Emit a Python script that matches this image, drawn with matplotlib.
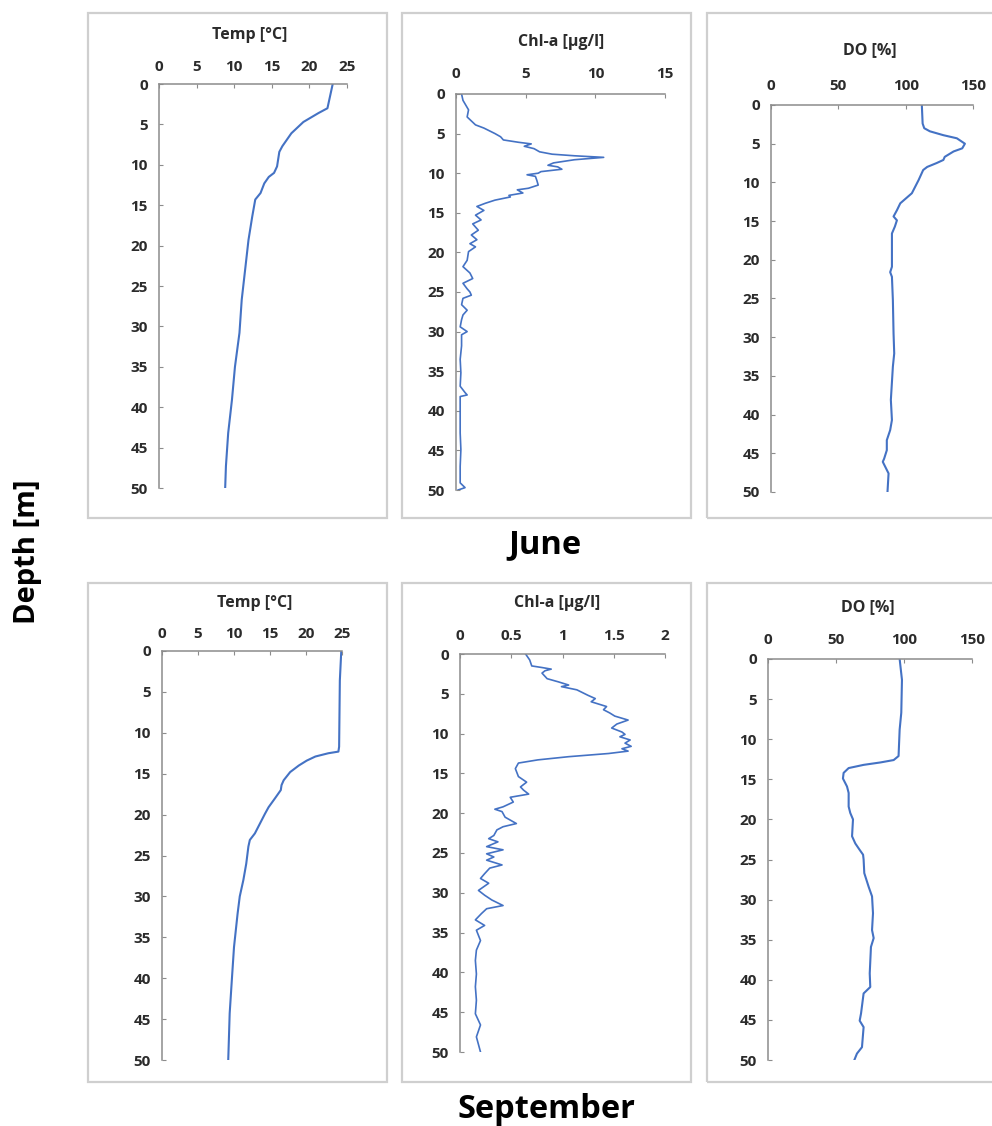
import matplotlib.pyplot as plt
from matplotlib.patches import Rectangle

# ---- June profiles ----
jun_temp_depth = [0, 3.0, 3.6, 4.7, 6.1, 7.7, 8.4, 10.2, 11.0, 11.5, 12.3, 13.5, 14.3, 16.4,
                  19.3, 22.6, 26.7, 30.8, 35.0, 39.1, 43.2, 47.3, 50]
jun_temp = [23.1, 22.4, 21.2, 19.2, 17.6, 16.4, 16.0, 15.7, 15.3, 14.6, 14.0, 13.5, 12.8, 12.4,
            11.9, 11.5, 11.0, 10.7, 10.1, 9.7, 9.2, 8.9, 8.8]

jun_chl_depth = [0, 0.8, 2.0, 2.9, 3.9, 4.3, 5.0, 5.4, 5.8, 6.1, 6.3, 6.6, 6.9, 7.3, 7.6, 7.8,
                 8.0, 8.3, 8.7, 9.0, 9.2, 9.5, 9.8, 10.0, 10.2, 10.4, 10.9, 11.5, 11.9, 12.1,
                 12.5, 12.8, 13.0, 13.4, 13.8, 14.2, 14.7, 15.3, 15.9, 16.4, 17.2, 17.8, 18.4,
                 18.9, 19.3, 19.9, 21.0, 21.8, 22.6, 23.3, 23.9, 24.6, 25.0, 25.4, 25.8, 26.6,
                 27.3, 27.9, 28.5, 29.4, 30.0, 30.4, 31.8, 33.5, 35.2, 36.9, 37.7, 38.0, 38.2,
                 40.3, 42.8, 44.9, 47.0, 49.1, 49.7, 50]
jun_chl = [0.4, 0.5, 0.9, 0.8, 1.4, 2.0, 2.8, 3.2, 3.4, 4.5, 5.4, 4.9, 5.6, 6.0, 6.9, 8.5,
           10.6, 8.5, 7.0, 6.6, 7.3, 7.6, 6.1, 5.9, 5.1, 5.7, 5.8, 5.9, 5.2, 4.4,
           4.8, 3.8, 3.9, 2.8, 2.1, 1.5, 2.0, 1.4, 1.8, 1.2, 1.6, 1.1, 1.5,
           1.0, 1.4, 0.9, 0.8, 0.5, 1.0, 1.2, 0.5, 0.8, 1.0, 1.1, 0.5, 0.4,
           0.8, 0.5, 0.4, 0.3, 0.8, 0.4, 0.4, 0.3, 0.35, 0.3, 0.65, 0.8, 0.3,
           0.3, 0.3, 0.35, 0.3, 0.3, 0.65, 0.15]

jun_do_depth = [0, 2.4, 3.0, 3.4, 3.9, 4.3, 5.0, 5.6, 6.0, 6.7, 7.1, 7.5, 8.0, 8.4, 9.7, 11.4,
                12.7, 13.6, 14.4, 14.9, 15.7, 16.6, 20.9, 21.6, 22.2, 25.2, 29.5, 32.1, 33.8,
                38.1, 40.7, 42.0, 43.3, 44.6, 45.7, 46.1, 46.8, 47.6, 50]
jun_do = [112, 112.6, 113.8, 118, 128, 138, 144, 142, 135.6, 129, 128, 123, 116, 113, 109.6, 104.6,
          96, 93.5, 91, 93.5, 92, 89.8, 89.8, 88.5, 89.8, 90.5, 91, 91.5, 90.5,
          89, 89.8, 88.5, 86, 86, 84, 83, 85, 87.3, 86.5]

# ---- September profiles ----
sep_temp_depth = [0, 3.6, 11.7, 12.3, 12.5, 12.9, 13.4, 14.0, 14.8, 15.8, 16.4, 17.0, 18.0, 19.1,
                  19.9, 21.1, 22.3, 23.1, 23.9, 26.0, 28.0, 30.0, 32.1, 36.2, 40.2, 44.3, 50]
sep_temp = [24.9, 24.7, 24.6, 24.5, 23.1, 21.3, 20.1, 19.0, 17.8, 16.9, 16.6, 16.5, 15.7, 14.8,
            14.3, 13.6, 12.9, 12.2, 12.0, 11.7, 11.3, 10.8, 10.5, 10.0, 9.7, 9.4, 9.2]

sep_chl_depth = [0, 0.75, 1.5, 1.7, 1.9, 2.1, 2.4, 3.1, 3.5, 3.9, 4.1, 4.5, 5.2, 5.6, 6.0, 6.6,
                 7.0, 7.4, 7.8, 8.3, 8.8, 9.3, 9.8, 10.1, 10.4, 10.8, 11.2, 11.6, 11.9, 12.2,
                 12.5, 12.9, 13.3, 13.7, 14.4, 15.4, 16.1, 16.7, 17.1, 17.6, 18.0, 18.6, 19.2,
                 19.5, 19.8, 20.5, 21.3, 21.7, 22.1, 22.8, 23.2, 23.6, 24.2, 24.6, 25.1, 25.5,
                 25.9, 26.5, 26.9, 27.6, 28.2, 28.8, 29.7, 30.3, 30.9, 31.6, 32.0, 32.6, 33.4,
                 34.1, 34.7, 36.0, 37.2, 38.5, 40.2, 41.8, 43.5, 45.2, 46.6, 48.1, 50]
sep_chl = [0.64, 0.68, 0.70, 0.80, 0.89, 0.83, 0.80, 0.85, 0.96, 1.06, 0.99, 1.14, 1.25, 1.32, 1.28, 1.43,
           1.40, 1.46, 1.51, 1.64, 1.53, 1.48, 1.58, 1.61, 1.56, 1.66, 1.61, 1.67, 1.58, 1.64,
           1.45, 1.06, 0.76, 0.57, 0.54, 0.57, 0.65, 0.59, 0.62, 0.67, 0.49, 0.52, 0.42,
           0.34, 0.41, 0.44, 0.55, 0.42, 0.36, 0.33, 0.28, 0.37, 0.26, 0.42, 0.26, 0.33,
           0.26, 0.41, 0.29, 0.24, 0.20, 0.28, 0.18, 0.24, 0.31, 0.42, 0.26, 0.21, 0.15,
           0.24, 0.16, 0.20, 0.16, 0.15, 0.16, 0.15, 0.16, 0.15, 0.20, 0.16, 0.20]

sep_do_depth = [0, 2.6, 6.7, 8.8, 12.1, 12.6, 12.9, 13.2, 13.6, 14.2, 14.9, 15.9, 16.7, 18.4,
                19.2, 20.0, 22.1, 23.0, 23.8, 24.4, 25.0, 26.7, 28.4, 29.6, 31.7, 33.8, 34.8,
                35.9, 39.2, 40.9, 41.7, 44.2, 45.1, 45.9, 48.4, 49.2, 50]
sep_do = [96.8, 98.5, 98, 96.8, 96, 92.4, 82.6, 70.3, 59.3, 55.6, 55.1, 58.1, 59.3, 59.3,
          60.5, 62.5, 61.8, 64.2, 67.4, 69.9, 70.3, 70.8, 74, 76.5, 77.2, 76.5, 77.7,
          75.7, 74.8, 75.2, 70.3, 68.4, 67.4, 70.3, 69.1, 65.4, 63.5]

titles = ['Temp [°C]', 'Chl-a [µg/l]', 'DO [%]']
xmax = [25, 15, 150]
xstep = [5, 5, 50]
sep_xmax = [25, 2, 150]
sep_xstep = [5, 0.5, 50]

W, H = 992, 1126
plt.rcParams['font.family'] = ['Open Sans', 'DejaVu Sans']
fig = plt.figure(figsize=(W / 100, H / 100), dpi=100)
txt = '#2b2b2b'
blue = '#4472C4'


def px_axes(x0, y0, x1, y1):
    return fig.add_axes([x0 / W, 1 - y1 / H, (x1 - x0) / W, (y1 - y0) / H])


def box(x0, y0, x1, y1):
    fig.patches.append(Rectangle((x0 / W, 1 - y1 / H), (x1 - x0) / W, (y1 - y0) / H,
                                 transform=fig.transFigure, fill=False,
                                 edgecolor='#cfcfcf', linewidth=1.6))


def style(ax, xm, xs, title, tx, ty, pad):
    ax.set_ylim(50, 0)
    ax.set_xlim(0, xm)
    n = int(round(xm / xs))
    ticks = [i * xs for i in range(n + 1)]
    ax.set_xticks(ticks)
    ax.set_xticklabels([('%g' % t) for t in ticks])
    ax.set_yticks(range(0, 51, 5))
    ax.xaxis.tick_top()
    for s in ['right', 'bottom']:
        ax.spines[s].set_visible(False)
    for s in ['left', 'top']:
        ax.spines[s].set_color('#8c8c8c')
        ax.spines[s].set_linewidth(1.1)
    ax.tick_params(axis='x', direction='in', length=3, color='#8c8c8c', pad=pad,
                   labelsize=11, labelcolor=txt)
    ax.tick_params(axis='y', direction='in', length=3, color='#8c8c8c', pad=8,
                   labelsize=11, labelcolor=txt)
    for lab in ax.get_xticklabels() + ax.get_yticklabels():
        lab.set_fontweight('bold')
    fig.text(tx / W, 1 - ty / H, title, ha='center', va='center', fontsize=11.5,
             fontweight='bold', color=txt)


# boxes
for (x0, x1) in [(88, 387), (402, 691), (707, 996)]:
    box(x0, 13, x1, 518)
    box(x0, 583, x1, 1082)

# June row
ax1 = px_axes(159, 84, 347, 488)
ax1.plot(jun_temp, jun_temp_depth, color=blue, lw=1.5)
style(ax1, xmax[0], xstep[0], titles[0], 250, 35, 7)

ax2 = px_axes(456, 94, 665, 490)
ax2.plot(jun_chl, jun_chl_depth, color=blue, lw=1.2)
style(ax2, xmax[1], xstep[1], titles[1], 561, 42, 9)

ax3 = px_axes(771, 105, 973, 492)
ax3.plot(jun_do, jun_do_depth, color=blue, lw=1.5)
style(ax3, xmax[2], xstep[2], titles[2], 870, 50, 9)

# September row
ax4 = px_axes(162, 651, 342, 1060)
ax4.plot(sep_temp, sep_temp_depth, color=blue, lw=1.5)
style(ax4, sep_xmax[0], sep_xstep[0], titles[0], 255, 603, 7)

ax5 = px_axes(460, 654, 665, 1052)
ax5.plot(sep_chl, sep_chl_depth, color=blue, lw=1.2)
style(ax5, sep_xmax[1], sep_xstep[1], titles[1], 557, 603, 8)

ax6 = px_axes(768, 659, 972, 1060)
ax6.plot(sep_do, sep_do_depth, color=blue, lw=1.5)
style(ax6, sep_xmax[2], sep_xstep[2], titles[2], 868, 607, 9)

fig.text(545 / W, 1 - 545 / H, 'June', ha='center', va='center', fontsize=23.5,
         fontweight='bold', color='black')
fig.text(546 / W, 1 - 1110 / H, 'September', ha='center', va='center', fontsize=23.5,
         fontweight='bold', color='black')
fig.text(28 / W, 1 - 552 / H, 'Depth [m]', ha='center', va='center', fontsize=21,
         fontweight='bold', color='black', rotation=90)

fig.savefig('out.png', dpi=100, facecolor='white')
